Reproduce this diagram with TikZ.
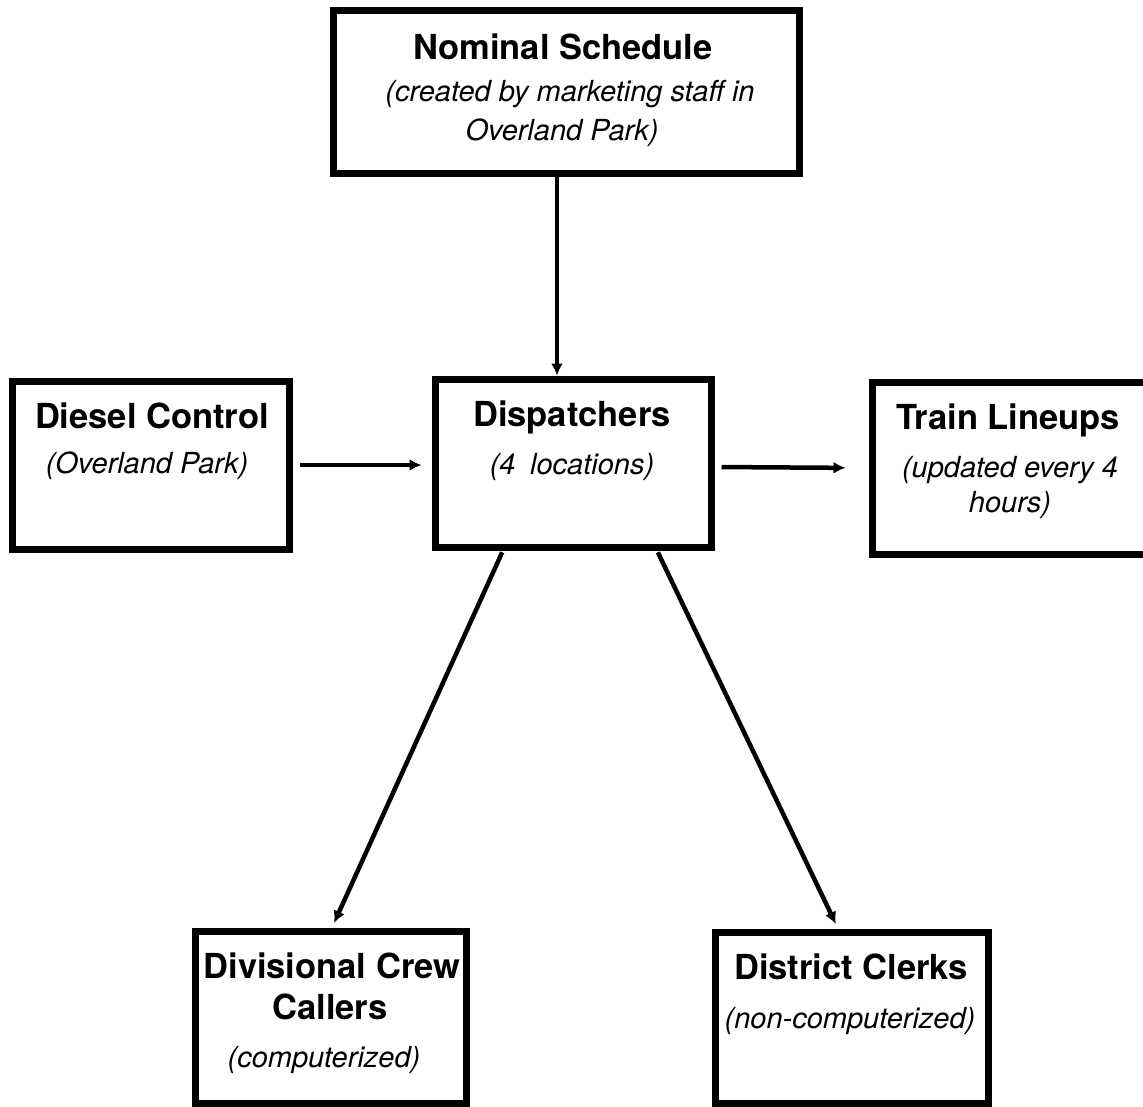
\documentclass[tikz,border=0pt]{standalone}
\usepackage{fontspec}
\setmainfont{TeX Gyre Heros}
\usetikzlibrary{arrows.meta}
\begin{document}
\begin{tikzpicture}[x=1pt,y=-1pt,
  box/.style={draw=black, line width=7pt, rectangle, inner sep=0pt},
  ttl/.style={anchor=base, inner sep=0pt, font=\bfseries\fontsize{34.5}{40}\selectfont},
  sub/.style={anchor=base, inner sep=0pt, font=\itshape\fontsize{29}{37}\selectfont},
  arr/.style={line width=4.5pt, -{Latex[length=12pt,width=12pt]}}]
\useasboundingbox[fill=white] (0,0) rectangle (1143,1106);
% boxes
\node[box, minimum width=466pt, minimum height=163pt] (nom) at (566,91.5) {};
\node[box, minimum width=277pt, minimum height=168pt] (diesel) at (150.5,465) {};
\node[box, minimum width=276pt, minimum height=168pt] (disp) at (573,463) {};
\node[box, minimum width=276pt, minimum height=172pt] (train) at (1010,468) {};
\node[box, minimum width=271pt, minimum height=172pt] (div) at (330.5,1017) {};
\node[box, minimum width=273pt, minimum height=171pt] (dist) at (851.5,1017.5) {};
% texts
\node[ttl] (nomT) at (563,59) {Nominal Schedule};
\node[sub] (nomS1) at (570,101) {(created by marketing staff in};
\node[sub] (nomS2) at (562,140) {Overland Park)};
\node[ttl] (dieselT) at (152,428) {Diesel Control};
\node[sub] (dieselS) at (147,473) {(Overland Park)};
\node[ttl] (dispT) at (572,426) {Dispatchers};
\node[sub] (dispS) at (572,474) {(4\hspace{0.5em}locations)};
\node[ttl] (trainT) at (1008,429) {Train Lineups};
\node[sub] (trainS1) at (1010,477) {(updated every 4};
\node[sub] (trainS2) at (1010,512) {hours)};
\node[ttl] (divT1) at (332,978) {Divisional Crew};
\node[ttl] (divT2) at (330,1019) {Callers};
\node[sub] (divS) at (324,1067) {(computerized)};
\node[ttl] (distT) at (851,979) {District Clerks};
\node[sub] (distS) at (850,1028) {(non-computerized)};
% connectors
\draw[arr] ([xshift=-9pt]nom.south) -- ([xshift=-16pt]disp.north);
\draw[arr, shorten <=7pt, shorten >=10pt] (diesel.east) -- (disp.west |- diesel.east);
\draw[arr, shorten <=7pt, shorten >=23pt] ([yshift=-4pt]disp.east) -- (train.west);
\draw[arr, shorten <=2pt, shorten >=5pt] ([xshift=-70pt]disp.south) -- ([xshift=1.5pt]div.north);
\draw[arr, shorten <=2pt, shorten >=5pt] ([xshift=84pt]disp.south) -- ([xshift=-13.5pt]dist.north);
\end{tikzpicture}
\end{document}
